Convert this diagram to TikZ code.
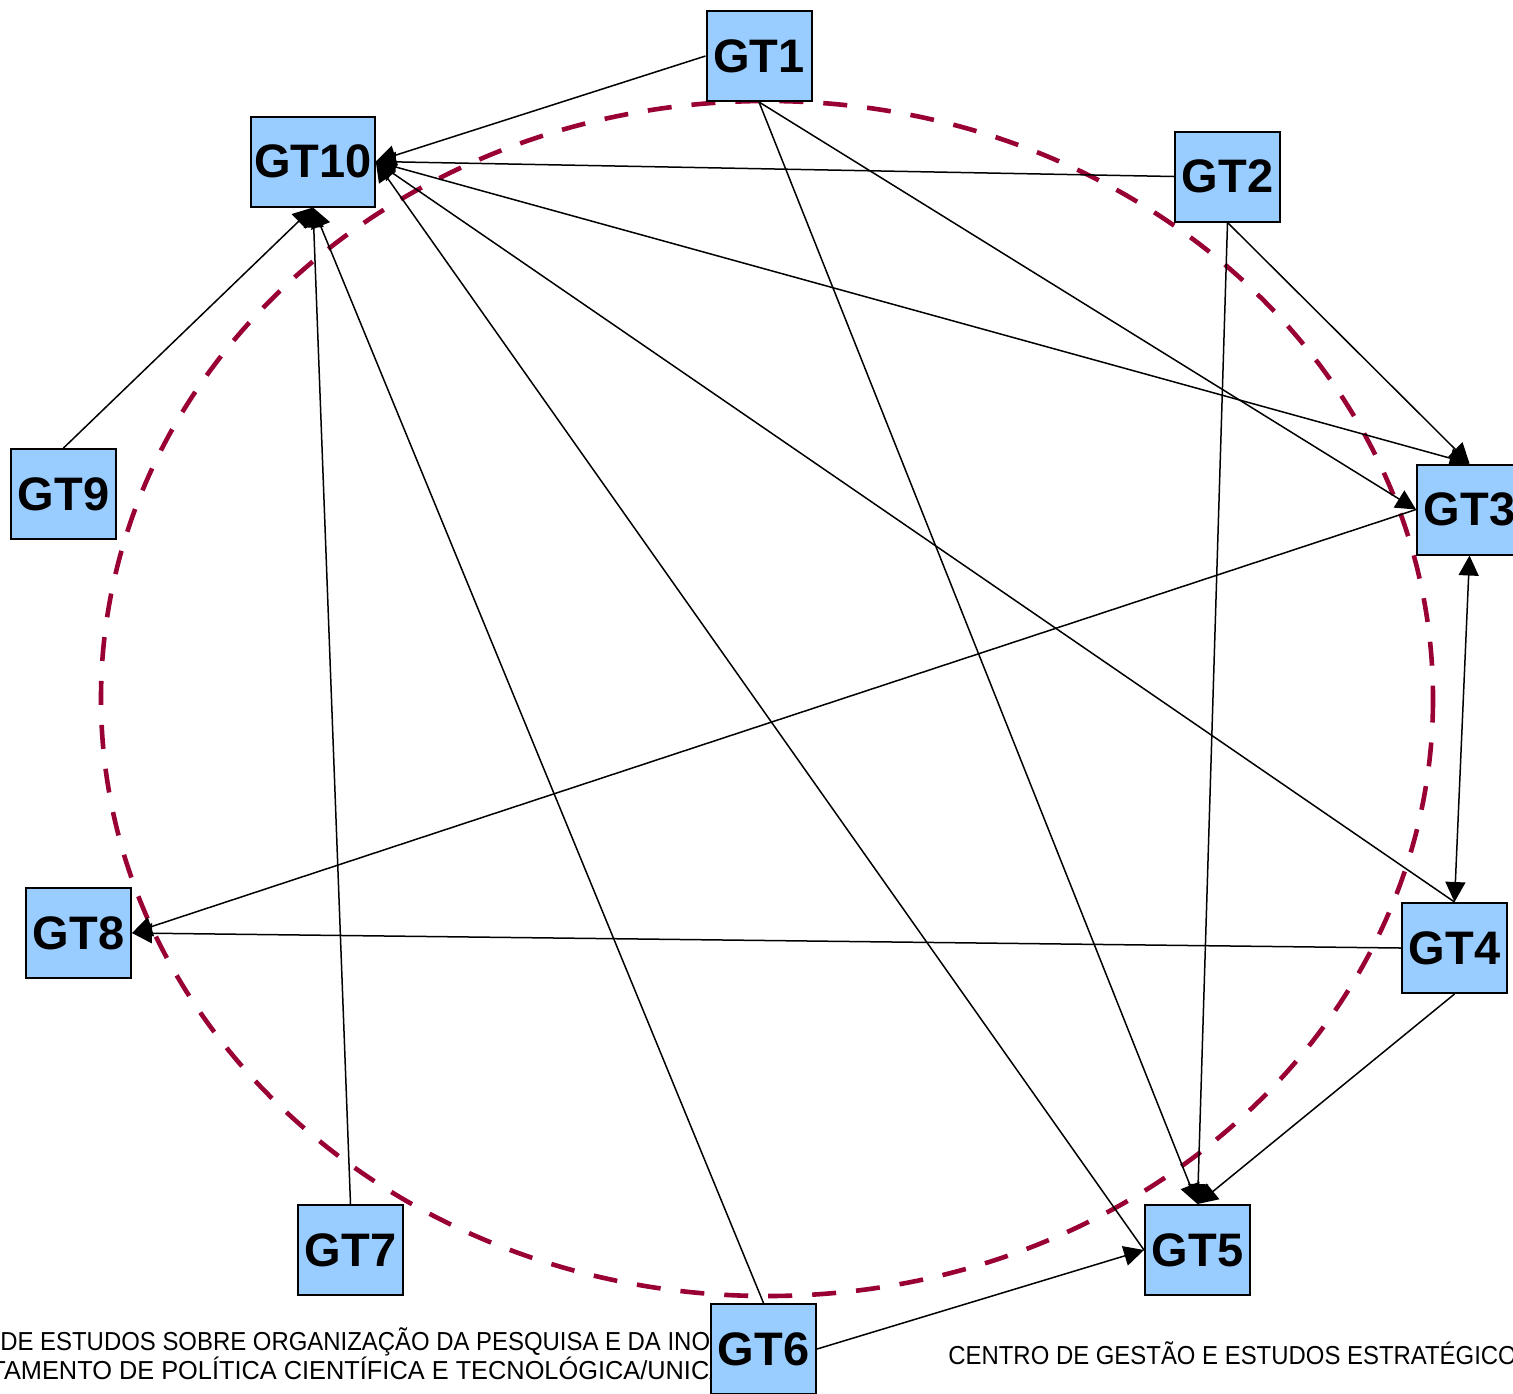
\documentclass[tikz,border=0pt]{standalone}
\usepackage{fontspec}
\setmainfont{Liberation Sans}
\usetikzlibrary{arrows.meta}
\pgfdeclarelayer{bg}
\pgfsetlayers{bg,main}
\definecolor{boxblue}{HTML}{99CCFF}
\definecolor{ringred}{HTML}{990033}
\begin{document}
\begin{tikzpicture}[x=0.5pt,y=-0.5pt,
  gt/.style={draw=black, line width=1pt, fill=boxblue, minimum width=52.5pt,
    minimum height=45pt, inner sep=1.5pt, font=\bfseries\fontsize{23.5}{23.5}\selectfont},
  link/.style={line width=0.75pt, -{Triangle[length=10pt,width=10pt]}},
  biLink/.style={line width=0.75pt, {Triangle[length=10pt,width=10pt]}-{Triangle[length=10pt,width=10pt]}},
  ring/.style={draw=ringred, line width=2.3pt, dash pattern=on 12pt off 10pt},
  caption/.style={font=\fontsize{13}{13}\selectfont, inner sep=0pt, anchor=base west, xscale=0.92}]
\clip (0,0) rectangle (1513,1393);
% nodes
\node[gt] (gt1) at (759,56) {GT1};
\node[gt] (gt10) at (313,161.5) {GT10};
\node[gt] (gt2) at (1227.5,176.5) {GT2};
\node[gt] (gt9) at (63.5,494) {GT9};
\node[gt] (gt3) at (1469.5,509.5) {GT3};
\node[gt] (gt8) at (78.5,933) {GT8};
\node[gt] (gt4) at (1454.5,948) {GT4};
\node[gt] (gt7) at (350.5,1250) {GT7};
\node[gt] (gt5) at (1197.5,1250) {GT5};
\node[gt] (gt6) at (763.5,1349) {GT6};
\begin{pgfonlayer}{bg}
  \draw[ring] (767,698.5) ellipse [x radius=666, y radius=597.5];
  \node[caption] (capA) at (0,1350) {\llap{GRUPO }DE ESTUDOS SOBRE ORGANIZAÇÃO DA PESQUISA E DA INOVAÇÃO};
  \node[caption, xscale=1.06] (capB) at (-10,1379) {\llap{DEPAR}TAMENTO DE POLÍTICA CIENTÍFICA E TECNOLÓGICA/UNICAMP};
  \node[caption] (capC) at (948,1364) {CENTRO DE GESTÃO E ESTUDOS ESTRATÉGICOS};
  % connectors
  \draw[link] (gt1.west) -- (gt10.east);
  \draw[link] (gt2.west) -- (gt10.east);
  \draw[link] (gt10.east) -- (gt3.north);
  \draw[link] (gt1.south) -- (gt3.west);
  \draw[link] (gt1.south) -- (gt5.north);
  \draw[link] (gt2.south) -- (gt3.north);
  \draw[link] (gt2.south) -- (gt5.north);
  \draw[biLink] (gt3.south) -- (gt4.north);
  \draw[link] (gt3.west) -- (gt8.east);
  \draw[link] (gt4.west) -- (gt8.east);
  \draw[link] (gt4.north) -- (gt10.east);
  \draw[link] (gt4.south) -- (gt5.north);
  \draw[link] (gt5.west) -- (gt10.east);
  \draw[link] (gt6.north) -- (gt10.south);
  \draw[link] (gt6.east) -- (gt5.west);
  \draw[link] (gt7.north) -- (gt10.south);
  \draw[link] (gt9.north) -- (gt10.south);
\end{pgfonlayer}
\end{tikzpicture}
\end{document}
